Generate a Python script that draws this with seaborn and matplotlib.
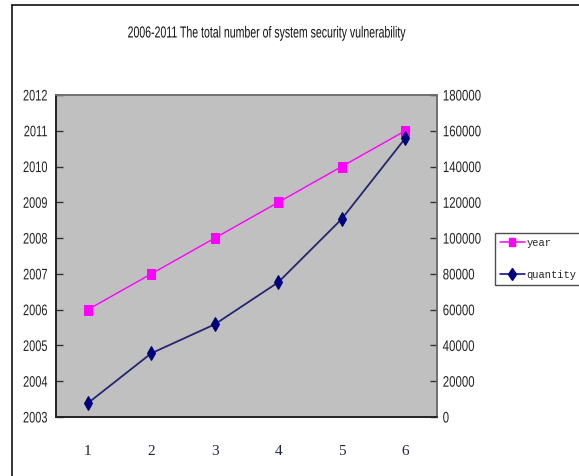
import matplotlib
matplotlib.use("Agg")
import matplotlib.pyplot as plt
from matplotlib.lines import Line2D
from matplotlib.transforms import Affine2D
from matplotlib import patheffects
import seaborn as sns
import pandas as pd

# Data
index = [1, 2, 3, 4, 5, 6]
years = [2006, 2007, 2008, 2009, 2010, 2011]
quantity = [7700, 35600, 51800, 75300, 110700, 155800]
year_ticks = list(range(2003, 2013))
quantity_ticks = list(range(0, 180001, 20000))

df = pd.DataFrame({"idx": index, "year": years, "quantity": quantity})


class Condense(patheffects.AbstractPathEffect):
    """Squeeze text horizontally to imitate a narrow typeface."""

    def __init__(self, sx=0.8, anchor="center"):
        super().__init__()
        self.sx = sx
        self.anchor = anchor

    def draw_path(self, renderer, gc, tpath, affine, rgbFace=None):
        ext = tpath.get_extents(affine)
        x0 = {"left": ext.x0, "center": (ext.x0 + ext.x1) / 2, "right": ext.x1}[self.anchor]
        squeeze = affine + Affine2D().translate(-x0, 0).scale(self.sx, 1).translate(x0, 0)
        renderer.draw_path(gc, tpath, squeeze, rgbFace)


sns.set_style("white")
sans = ["Liberation Sans", "DejaVu Sans"]
serif = ["Liberation Serif", "DejaVu Serif"]
mono = ["Liberation Mono", "DejaVu Sans Mono"]

fig = plt.figure(figsize=(5.79, 4.76), dpi=100)
fig.patch.set_facecolor("white")

ax = fig.add_axes([56 / 579, 1 - 417 / 476, (437 - 56) / 579, (417 - 95) / 476])
ax.set_facecolor("#C0C0C0")
ax2 = ax.twinx()

tall_square = [(-0.35, -0.5), (0.35, -0.5), (0.35, 0.5), (-0.35, 0.5), (-0.35, -0.5)]

sns.lineplot(data=df, x="idx", y="year", ax=ax, color="#FF00FF", marker=tall_square,
             markersize=7.5, markeredgecolor="#FF00FF", linewidth=1.0, zorder=3)
sns.lineplot(data=df, x="idx", y="quantity", ax=ax2, color="#25256E", marker="d",
             markersize=7.5, markeredgecolor="#000070", markerfacecolor="#000080",
             linewidth=1.3, zorder=3)

ax.set_xlim(0.5, 6.5)
ax.set_ylim(2003, 2012)
ax2.set_ylim(0, 180000)

ax.set_yticks(year_ticks)
for t in ax.set_yticklabels([str(y) for y in year_ticks], family=sans, fontsize=11, color="#222222"):
    t.set_path_effects([Condense(0.72, "right")])
ax2.set_yticks(quantity_ticks)
for t in ax2.set_yticklabels([str(q) for q in quantity_ticks], family=sans, fontsize=11, color="#222222"):
    t.set_path_effects([Condense(0.75, "left")])

# category labels at the centres, tick marks between categories
ax.set_xticks(index)
ax.set_xticklabels([str(i) for i in index], family=serif, fontsize=11, color="#222244")
ax.tick_params(axis="x", which="major", length=0, pad=20)
ax.set_xticks([1.5, 2.5, 3.5, 4.5, 5.5], minor=True)
ax.tick_params(axis="x", which="minor", direction="in", length=5, color="#333333", width=1)

ax.tick_params(axis="y", direction="in", length=5, pad=6, color="#333333", width=1, left=True)
ax2.tick_params(axis="y", direction="in", length=5, pad=4, color="#333333", width=1, right=True)

ax.set_xlabel("")
ax.set_ylabel("")
ax2.set_ylabel("")

for a in (ax, ax2):
    for side in ("left", "bottom"):
        a.spines[side].set_color("#222222")
        a.spines[side].set_linewidth(1.2)
    for side in ("top", "right"):
        a.spines[side].set_color("#707070")
        a.spines[side].set_linewidth(1.2)

title = fig.text(267 / 579, 1 - 33 / 476,
                 "2006-2011 The total number of system security vulnerability",
                 ha="center", va="center", family=sans, fontsize=11.5, color="#111111")
title.set_path_effects([Condense(0.66, "center")])

handles = [
    Line2D([], [], color="#FF00FF", marker=tall_square, markersize=6, linewidth=1.1),
    Line2D([], [], color="#000080", marker="d", markersize=6, linewidth=1.1),
]
leg = fig.legend(handles, ["year", "quantity"], loc="center left",
                 bbox_to_anchor=(495 / 579, 1 - 259 / 476), frameon=True,
                 prop={"family": mono, "size": 7.5}, handlelength=2.4,
                 handletextpad=0.15, borderpad=0.45, labelspacing=2.1,
                 fancybox=False, borderaxespad=0)
leg.get_frame().set_edgecolor("#222222")
leg.get_frame().set_linewidth(1.0)

# outer chart border (left and top edges)
fig.add_artist(Line2D([12 / 579, 12 / 579], [0, 1 - 5 / 476], color="#111111", linewidth=1.2))
fig.add_artist(Line2D([12 / 579, 1], [1 - 5 / 476, 1 - 5 / 476], color="#111111", linewidth=1.2))

fig.savefig("out.png", dpi=100, facecolor="white")
